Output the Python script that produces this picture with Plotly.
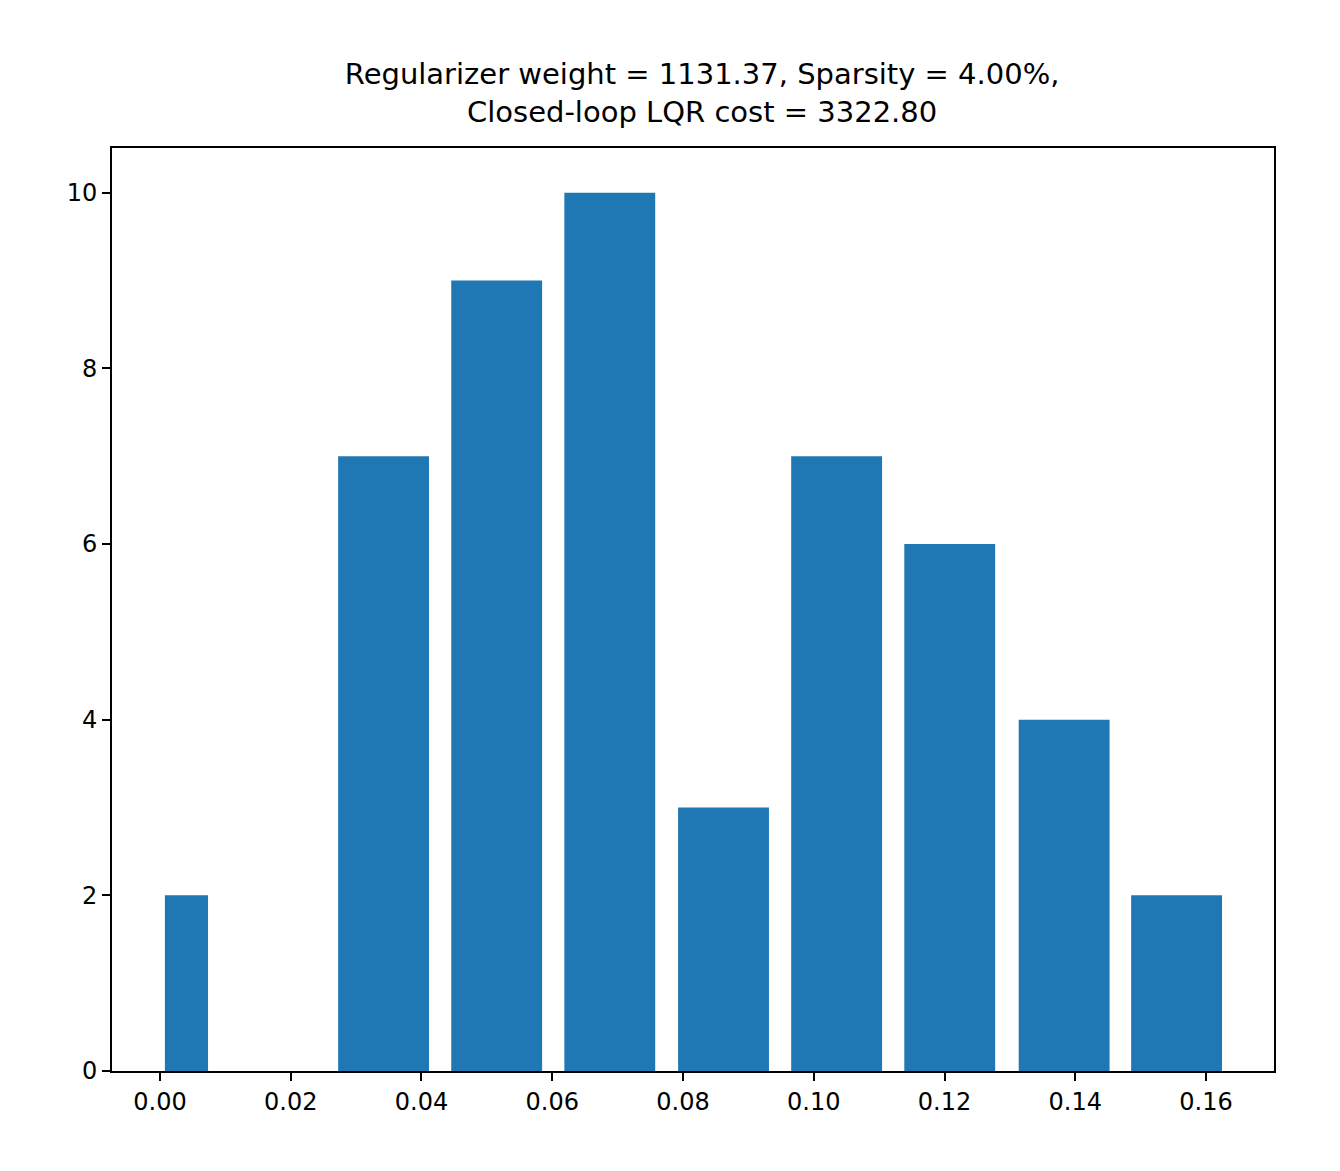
import plotly.graph_objects as go

# bar centres, widths and counts
centers = [0.00405, 0.0342, 0.0515, 0.0688, 0.0862, 0.1035, 0.1208, 0.1383, 0.1555]
widths = [0.0066, 0.0139, 0.0139, 0.0139, 0.0139, 0.0139, 0.0139, 0.0139, 0.0139]
counts = [2, 7, 9, 10, 3, 7, 6, 4, 2]
x_ticks = [0.00, 0.02, 0.04, 0.06, 0.08, 0.10, 0.12, 0.14, 0.16]
y_ticks = [0, 2, 4, 6, 8, 10]

fig = go.Figure(go.Bar(x=centers, y=counts, width=widths, marker_color="#1f77b4",
                       marker_line_width=0))

axis = dict(showline=True, linecolor="black", linewidth=2, mirror=True,
            ticks="outside", ticklen=8, tickwidth=2, tickcolor="black",
            showgrid=False, zeroline=False, tickfont=dict(size=24, color="black"))

fig.update_layout(
    width=1340, height=1171,
    plot_bgcolor="white", paper_bgcolor="white",
    font=dict(family="DejaVu Sans", color="black"),
    title=dict(text="Regularizer weight = 1131.37, Sparsity = 4.00%,<br>Closed-loop LQR cost = 3322.80",
               x=0.518, xanchor="center", y=0.935, yanchor="middle", font=dict(size=29)),
    margin=dict(l=104, r=74, t=140, b=108),
    xaxis=dict(axis, range=[-0.00734, 0.1704], tickvals=x_ticks,
               ticktext=[f"{v:.2f}" for v in x_ticks]),
    yaxis=dict(axis, range=[0, 10.51], tickvals=y_ticks),
    showlegend=False,
)

fig.write_html("out.html")
